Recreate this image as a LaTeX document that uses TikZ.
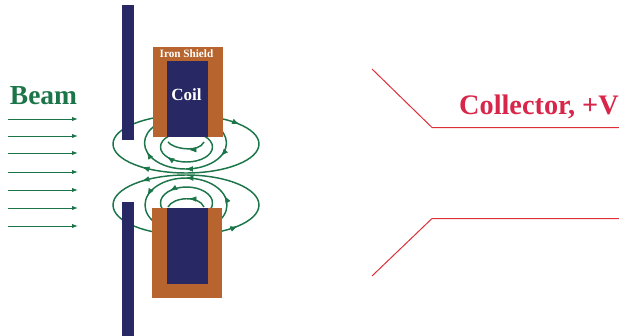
\documentclass[tikz,border=0pt]{standalone}
\usepackage{fontspec}
\setmainfont{Liberation Serif}
\usetikzlibrary{arrows.meta}
\definecolor{navy}{HTML}{272864}
\definecolor{iron}{HTML}{B8642E}
\definecolor{fieldgreen}{HTML}{1B7549}
\definecolor{collred}{HTML}{D8264A}
\definecolor{lineRed}{HTML}{DC2F38}
\tikzset{
  bar/.style={fill=navy,draw=none},
  shield/.style={fill=iron,draw=none},
  field/.style={fieldgreen,line width=1.1pt},
  beamline/.style={fieldgreen,line width=0.7pt,-{Latex[length=4.5pt,width=3.2pt]}},
  tipmark/.style={fieldgreen,line width=0.5pt,-{Latex[length=5.5pt,width=4.2pt]}},
  coll/.style={lineRed,line width=0.75pt},
}
\newcommand{\tipat}[5]{% cx cy rx ry angle
  \draw[tipmark] ([shift={(#1,#2)}]#5-1:#3 and #4) -- ([shift={(#1,#2)}]#5:#3 and #4);}
\newcommand{\tipccw}[5]{%
  \draw[tipmark] ([shift={(#1,#2)}]#5+1:#3 and #4) -- ([shift={(#1,#2)}]#5:#3 and #4);}
\begin{document}
\begin{tikzpicture}[x=0.75pt,y=-0.75pt]
\useasboundingbox (0,0) rectangle (619,336);
% field lines upper
\draw[field] (186,144) ellipse [x radius=73,y radius=29];
\draw[field] (185.5,143) ellipse [x radius=41,y radius=26];
\draw[field] (186.5,147) ellipse [x radius=26,y radius=15];
\draw[field] (168,142) .. controls (173,149) and (199,153) .. (204,142);
% field lines lower
\draw[field] (186,205) ellipse [x radius=73,y radius=30];
\draw[field] (186,205) ellipse [x radius=41,y radius=27];
\draw[field] (186.5,203) ellipse [x radius=26,y radius=16];
\draw[field] (168,207) .. controls (173,197) and (199,195) .. (204,207);
% arrow tips
\tipat{186}{144}{73}{29}{-43}
\tipat{186}{144}{73}{29}{127}
\tipat{185.5}{143}{41}{26}{30}
\tipat{185.5}{143}{41}{26}{90}
\tipat{185.5}{143}{41}{26}{160}
\tipat{186.5}{147}{26}{15}{138}
\draw[tipmark] (195,149.7) -- (189,149.9);
\tipccw{186}{205}{73}{30}{45}
\tipccw{186}{205}{73}{30}{-127}
\tipccw{186}{205}{41}{27}{-20}
\tipccw{186}{205}{41}{27}{-90}
\tipccw{186}{205}{41}{27}{-160}
\tipccw{186.5}{203}{26}{16}{-130}
\draw[tipmark] (195,199) -- (189,198.6);
% plates
\fill[bar] (122,5) rectangle (134,140);
\fill[bar] (122,202) rectangle (134,336);
% shields and coils
\fill[shield] (153,47) rectangle (223,137);
\fill[bar] (167,61) rectangle (208,137);
\fill[shield] (152,208) rectangle (222,298);
\fill[bar] (167,208) rectangle (208,284);
% beam arrows
\coordinate (b1s) at (8,119); \coordinate (b1e) at (78,119);
\coordinate (b2s) at (8,136); \coordinate (b2e) at (78,136);
\coordinate (b3s) at (8,153); \coordinate (b3e) at (78,153);
\coordinate (b4s) at (8,172); \coordinate (b4e) at (78,172);
\coordinate (b5s) at (8,190); \coordinate (b5e) at (78,190);
\coordinate (b6s) at (8,208); \coordinate (b6e) at (78,208);
\coordinate (b7s) at (8,226); \coordinate (b7e) at (78,226);
\foreach \i in {1,...,7} \draw[beamline] (b\i s) -- (b\i e);
% collector
\coordinate (c1) at (372,69); \coordinate (c2) at (432,127.5); \coordinate (c3) at (619,127.5);
\coordinate (c4) at (372,276); \coordinate (c5) at (432,218.5); \coordinate (c6) at (619,218.5);
\draw[coll] (c1) -- (c2) -- (c3);
\draw[coll] (c4) -- (c5) -- (c6);
% labels
\node[text=fieldgreen,inner sep=0pt,font=\fontsize{20.6}{22}\selectfont\bfseries] (beam) at (43.5,96) {Beam};
\node[text=white,inner sep=0pt,font=\fontsize{12.8}{14}\selectfont\bfseries] (coil) at (186.5,94.5) {Coil};
\node[text=white,inner sep=0pt,font=\fontsize{8.4}{9}\selectfont\bfseries] (iron) at (186.5,53.5) {Iron Shield};
\node[text=collred,inner sep=0pt,anchor=east,font=\fontsize{21.2}{23}\selectfont\bfseries] (collector) at (619,106.5) {Collector, +V};
\end{tikzpicture}
\end{document}
